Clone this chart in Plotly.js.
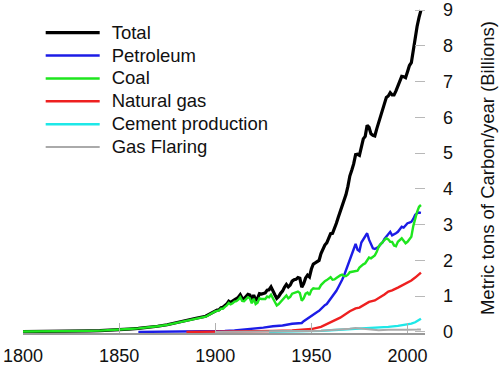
<!DOCTYPE html>
<html>
<head>
<meta charset="utf-8">
<script src="https://cdn.plot.ly/plotly-3.0.1.min.js"></script>
<style>
  html, body { margin: 0; padding: 0; background: #fff; }
  #chart { width: 500px; height: 368px; }
</style>
</head>
<body>
<div id="chart"></div>
<script>
function yrs(a, b, step) { var r = []; for (var y = a; y <= b; y += step) r.push(y); return r; }

// Total (billions of metric tons of carbon per year)
var totalYears = yrs(1800, 1895, 5).concat(yrs(1900, 2007, 1));
var totalValues = [
  0.010,0.010,0.012,0.013,0.016,0.020,0.027,0.030,0.036,0.045,0.058,0.080,0.098,0.120,0.158,0.200,0.254,0.310,0.383,0.440,
  0.59,0.61,0.62,0.68,0.69,0.73,0.78,0.86,0.82,0.86,
  0.91,0.93,0.97,1.04,0.94,0.93,0.99,1.05,1.03,0.89,
  1.03,0.89,0.94,1.07,1.06,1.08,1.09,1.17,1.18,1.26,
  1.17,1.04,0.94,0.99,1.08,1.14,1.25,1.33,1.26,1.31,
  1.42,1.46,1.47,1.52,1.50,1.25,1.35,1.51,1.59,1.54,
  1.76,1.90,1.93,1.98,2.00,2.19,2.33,2.43,2.49,2.62,
  2.75,2.76,2.88,3.04,3.21,3.36,3.53,3.65,3.84,4.07,
  4.36,4.52,4.70,4.96,4.97,4.94,5.23,5.40,5.47,5.78,
  5.72,5.54,5.50,5.48,5.68,5.85,6.03,6.19,6.42,6.56,
  6.60,6.69,6.63,6.63,6.74,6.88,7.04,7.15,7.14,7.11,
  7.28,7.45,7.53,7.90,8.25,8.55,8.80,9.00
];

// Coal
var coalYears = yrs(1800, 1895, 5).concat(yrs(1900, 2007, 1));
var coalValues = [
  0.010,0.010,0.012,0.013,0.016,0.020,0.027,0.030,0.036,0.045,0.058,0.080,0.098,0.120,0.157,0.198,0.250,0.303,0.372,0.425,
  0.575,0.59,0.60,0.65,0.65,0.70,0.74,0.81,0.77,0.80,
  0.85,0.86,0.90,0.97,0.87,0.86,0.92,0.97,0.94,0.80,
  0.93,0.78,0.82,0.94,0.92,0.93,0.92,0.99,0.97,1.04,
  0.94,0.83,0.74,0.78,0.84,0.88,0.96,1.02,0.94,0.98,
  1.07,1.09,1.09,1.13,1.09,0.87,0.94,1.07,1.10,1.03,
  1.17,1.22,1.21,1.22,1.21,1.31,1.38,1.42,1.45,1.50,
  1.53,1.46,1.47,1.51,1.55,1.58,1.60,1.56,1.56,1.60,
  1.67,1.68,1.70,1.71,1.71,1.80,1.85,1.89,1.92,2.02,
  2.08,2.06,2.11,2.14,2.24,2.39,2.45,2.52,2.57,2.62,
  2.59,2.52,2.52,2.42,2.40,2.52,2.58,2.62,2.55,2.48,
  2.52,2.60,2.66,2.96,3.20,3.36,3.50,3.55
];

// Petroleum
var petroleumYears = [1860,1870,1880,1890,1900,1905,1910,1915,1920,1925,1930,1935,1940,1945].concat(yrs(1946, 2007, 1));
var petroleumValues = [
  0,0.001,0.004,0.01,0.02,0.025,0.04,0.06,0.09,0.12,0.16,0.18,0.23,0.25,
  0.30,0.34,0.38,0.40,
  0.46,0.50,0.53,0.56,0.59,0.65,0.71,0.75,0.78,0.85,
  0.92,0.98,1.06,1.15,1.25,1.34,1.46,1.58,1.72,1.86,
  2.02,2.14,2.30,2.46,2.30,2.26,2.50,2.60,2.66,2.76,
  2.58,2.44,2.34,2.32,2.36,2.38,2.46,2.50,2.60,2.66,
  2.74,2.80,2.70,2.72,2.76,2.80,2.88,2.94,2.92,2.98,
  3.04,3.06,3.08,3.16,3.28,3.32,3.34,3.33
];

// Natural gas
var gasYears = [1885,1900,1910,1920,1930,1940,1945,1950,1955,1960,1965,1970,1973,1975,1978,1980,1983,1985,1988,1990,1992,1995,1998,2000,2002,2004,2006,2007];
var gasValues = [0,0.003,0.008,0.014,0.028,0.042,0.055,0.08,0.14,0.26,0.40,0.58,0.66,0.68,0.78,0.84,0.88,0.94,1.05,1.13,1.16,1.24,1.32,1.38,1.44,1.52,1.60,1.66];

// Cement production
var cementYears = [1928,1940,1950,1955,1960,1965,1970,1975,1980,1985,1990,1995,2000,2002,2004,2005,2006,2007];
var cementValues = [0.005,0.01,0.02,0.03,0.045,0.06,0.075,0.09,0.11,0.115,0.14,0.17,0.21,0.23,0.27,0.30,0.34,0.37];

// Gas flaring
var flaringYears = [1900,1940,1950,1955,1960,1965,1970,1973,1976,1979,1982,1985,1990,1995,2000,2005,2007];
var flaringValues = [0,0.005,0.025,0.03,0.045,0.06,0.09,0.11,0.10,0.09,0.06,0.05,0.06,0.05,0.06,0.065,0.07];

var xTicks = [1800, 1850, 1900, 1950, 2000];
var yTicks = [0,1,2,3,4,5,6,7,8,9];

var FONT = '"Liberation Sans", Arial, sans-serif';

function series(name, x, y, color, width) {
  return { type: 'scatter', mode: 'lines', name: name, x: x, y: y,
           line: { color: color, width: width }, hoverinfo: 'skip' };
}

var data = [
  series('Total', totalYears, totalValues, '#000000', 3.2),
  series('Petroleum', petroleumYears, petroleumValues, '#1c1ce6', 2.4),
  series('Coal', coalYears, coalValues, '#1ee61e', 2.4),
  series('Natural gas', gasYears, gasValues, '#ee2020', 2.4),
  series('Cement production', cementYears, cementValues, '#1ee8e8', 2.4),
  series('Gas Flaring', flaringYears, flaringValues, '#aaaaaa', 2)
];

var layout = {
  width: 500, height: 368,
  margin: { l: 23, r: 75, t: 3, b: 35, pad: 0 },
  paper_bgcolor: '#ffffff', plot_bgcolor: '#ffffff',
  font: { family: FONT, size: 18, color: '#111111' },
  showlegend: true,
  legend: {
    x: 0.044, y: 0.96, xanchor: 'left', yanchor: 'top',
    bgcolor: 'rgba(0,0,0,0)', borderwidth: 0,
    font: { family: FONT, size: 15.3, color: '#111111' },
    itemwidth: 61, tracegroupgap: 0
  },
  xaxis: {
    range: [1800, 2009.1], tickmode: 'array', tickvals: xTicks,
    ticks: 'inside', ticklen: 10, tickwidth: 1, tickcolor: '#b0b0b0',
    showline: true, linecolor: '#999999', linewidth: 2,
    showgrid: false, zeroline: false,
    tickfont: { family: FONT, size: 18, color: '#111111' },
    ticklabelstandoff: 5, fixedrange: true
  },
  yaxis: {
    side: 'right', range: [-0.03, 9.2], tickmode: 'array', tickvals: yTicks,
    ticks: 'inside', ticklen: 10, tickwidth: 1, tickcolor: '#b8b8b8',
    showline: false, showgrid: false, zeroline: false,
    tickfont: { family: FONT, size: 18, color: '#111111' },
    ticklabelstandoff: 17, fixedrange: true,
    title: { text: 'Metric tons of Carbon/year (Billions)', standoff: 29,
             font: { family: FONT, size: 18.5, color: '#111111' } }
  }
};

Plotly.newPlot('chart', data, layout, { staticPlot: true, displayModeBar: false }).then(function (gd) {
  gd.querySelectorAll('.legend [clip-path]').forEach(function (el) {
    el.removeAttribute('clip-path');
  });
  gd.querySelectorAll('.legend .legendlines path').forEach(function (p) {
    p.setAttribute('d', 'M5,0h54');
  });
  gd.querySelectorAll('.legend text.legendtext').forEach(function (t) {
    t.style.fontSize = '18.5px';
  });
});
</script>
</body>
</html>
